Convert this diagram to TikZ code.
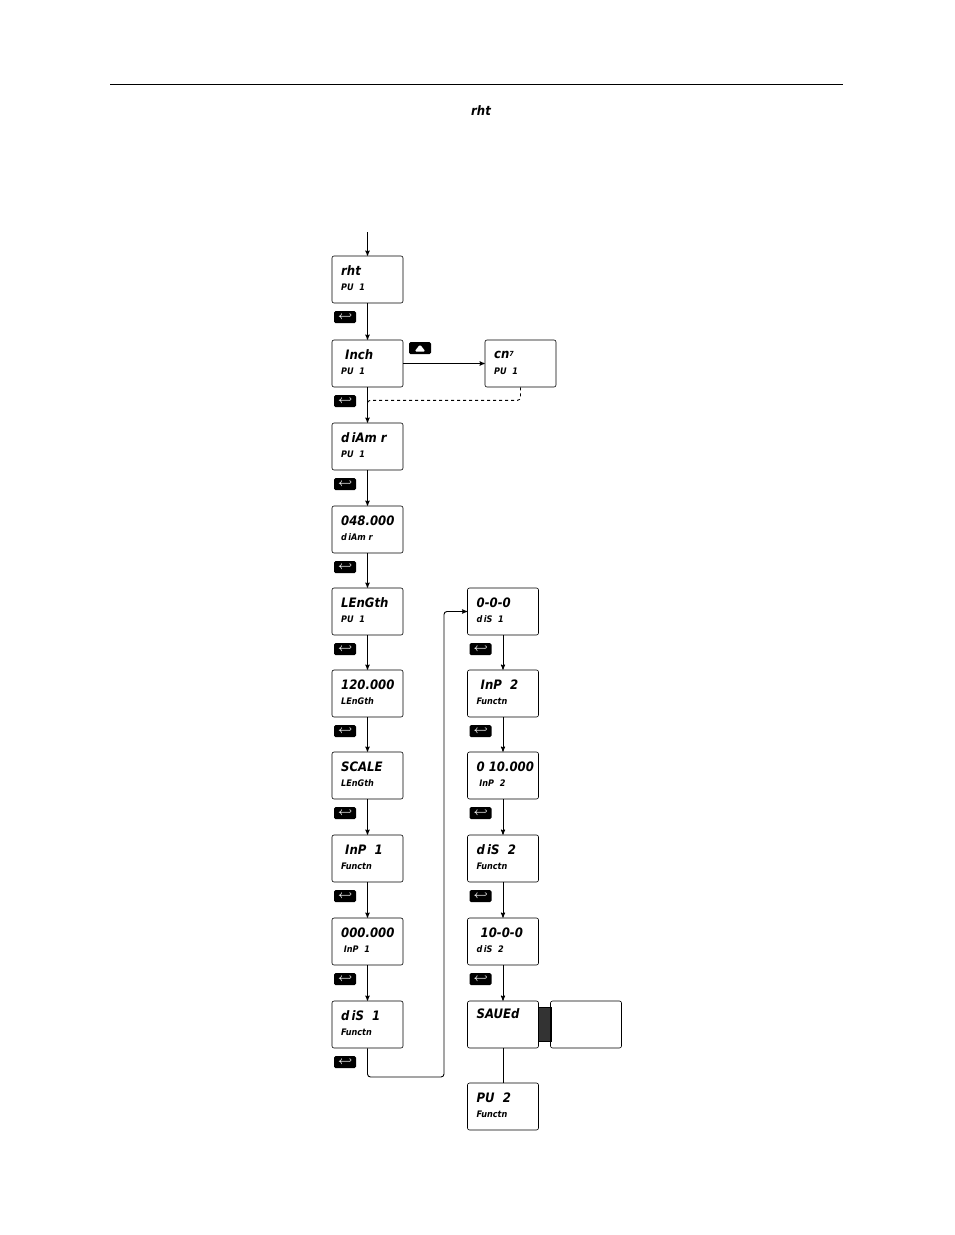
\documentclass[tikz,border=0pt]{standalone}
\usepackage{amsmath}
\usepackage{fontspec}
\setsansfont{DejaVu Sans Condensed}
\usetikzlibrary{positioning, shapes, arrows, calc}
\begin{document}
\begin{tikzpicture}[x=1pt,y=-1pt,>=stealth',line width=0.9pt,
    disp/.style={rectangle,draw,line width=0.6pt,rounded corners=2pt,minimum width=71pt,minimum height=47pt,inner sep=0pt},
    top/.style={anchor=west,inner sep=0pt,font=\sffamily\bfseries\itshape\fontsize{13}{13}\selectfont},
    bot/.style={anchor=west,inner sep=0pt,font=\sffamily\bfseries\itshape\fontsize{9}{9}\selectfont},
    key/.style={rectangle,fill=black,rounded corners=1.5pt,minimum width=22pt,minimum height=12pt,inner sep=0pt,text=white,font=\fontsize{11}{11}\selectfont}]
    \useasboundingbox (0,0) rectangle (954,1235);
    \draw (110,84) -- (843,84);
    \node at (481,111) [font=\sffamily\bfseries\itshape\fontsize{13}{13}\selectfont] (title) {rht};

    % left column
    \foreach \n/\y/\a/\b in {l1/279.5/rht/PU\ \ 1, l2/363.5/\ Inch/PU\ \ 1, l3/446.5/d\,iAm\ r/PU\ \ 1,
        l4/529.5/048.000/d\,iAm\ r, l5/611.5/LEnGth/PU\ \ 1, l6/693.5/120.000/LEnGth,
        l7/775.5/SCALE/LEnGth, l8/858.5/\ InP\ \ 1/Functn, l9/941.5/000.000/\ InP\ \ 1, l10/1024.5/d\,iS\ \ 1/Functn} {
        \node at (367.5,\y) [disp] (\n) {};
        \node at ($(\n.west)+(9,-9)$) [top] {\a};
        \node at ($(\n.west)+(9,8)$) [bot] {\b};
        \node at ($(\n.center)+(-22.5,37.5)$) [key] (\n_key) {$\boldsymbol\hookleftarrow$};
    }
    % right column
    \foreach \n/\y/\a/\b in {r1/611.5/0-0-0/d\,iS\ \ 1, r2/693.5/\ InP\ \ 2/Functn, r3/775.5/0\ 10.000/\ InP\ \ 2,
        r4/858.5/d\,iS\ \ 2/Functn, r5/941.5/\ 10-0-0/d\,iS\ \ 2, r7/1106.5/PU\ \ 2/Functn} {
        \node at (503,\y) [disp] (\n) {};
        \node at ($(\n.west)+(9,-9)$) [top] {\a};
        \node at ($(\n.west)+(9,8)$) [bot] {\b};
    }
    \foreach \n/\y in {r1/611.5, r2/693.5, r3/775.5, r4/858.5, r5/941.5} {
        \node at ($(\n.center)+(-22.5,37.5)$) [key] (\n_key) {$\boldsymbol\hookleftarrow$};
    }
    \node at (503,1024.5) [disp] (r6) {};
    \node at ($(r6.west)+(9,-11)$) [top] {SAUEd};
    \node at (544.5,1024.5) [rectangle,draw,line width=0.6pt,fill=black!80,minimum width=13pt,minimum height=34pt,inner sep=0pt] (r6_bar) {};
    \node at (586,1024.5) [disp] (r6_box) {};

    \node at (520.5,363.5) [disp] (cm) {};
    \node at ($(cm.west)+(9,-9)$) [top] {cn\raisebox{2pt}{\scriptsize 7}};
    \node at ($(cm.west)+(9,8)$) [bot] {PU\ \ 1};
    \node at (420,348) [key] (up_key) {\tikz\fill[white] (0,0) -- (11pt,0) -- (5.5pt,7pt) -- cycle;};

    \coordinate (start) at (367.5,232);
    \draw[->] (start) -- (l1);
    \foreach \a/\b in {l1/l2, l2/l3, l3/l4, l4/l5, l5/l6, l6/l7, l7/l8, l8/l9, l9/l10,
        r1/r2, r2/r3, r3/r4, r4/r5, r5/r6} {
        \draw[->] (\a) -- (\b);
    }
    \draw (r6) -- (r7);
    \draw[->] (l2) -- (cm);
    \draw[dashed,rounded corners=3pt] (cm.south) -- ++(0,13) -| (367.5,405);
    \draw[->,rounded corners=3pt] (l10.south) -- (367.5,1077) -| (444,611.5) -- (r1.west);
\end{tikzpicture}
\end{document}
